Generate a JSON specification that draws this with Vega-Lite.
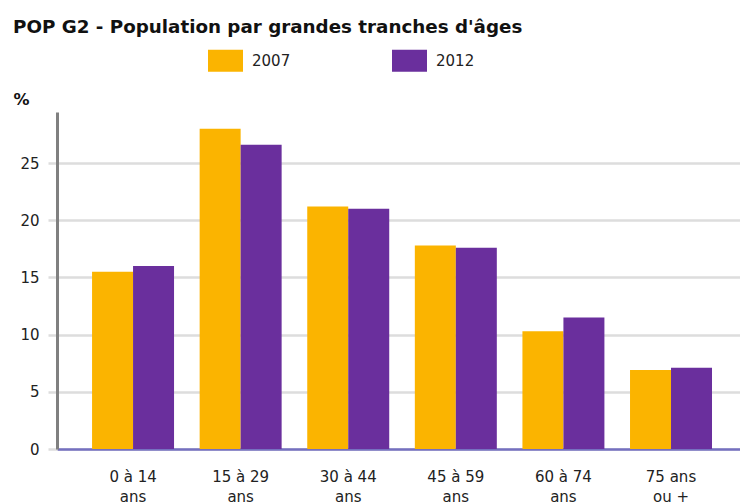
{
  "$schema": "https://vega.github.io/schema/vega-lite/v6.json",
  "width": 683,
  "height": 337,
  "autosize": {"type": "none"},
  "padding": {"left": 57, "top": 112, "right": 0, "bottom": 55},
  "background": "white",
  "title": {
    "text": "POP G2 - Population par grandes tranches d'âges",
    "anchor": "start",
    "frame": "group",
    "font": "DejaVu Sans",
    "fontSize": 18.3,
    "fontWeight": "bold",
    "color": "#111111",
    "baseline": "alphabetic",
    "dx": -44,
    "offset": -8
  },
  "data": {
    "values": [
      {"age": "0 à 14 ans", "year": "2007", "pct": 15.5},
      {"age": "0 à 14 ans", "year": "2012", "pct": 16.0},
      {"age": "15 à 29 ans", "year": "2007", "pct": 28.0},
      {"age": "15 à 29 ans", "year": "2012", "pct": 26.6},
      {"age": "30 à 44 ans", "year": "2007", "pct": 21.2},
      {"age": "30 à 44 ans", "year": "2012", "pct": 21.0},
      {"age": "45 à 59 ans", "year": "2007", "pct": 17.8},
      {"age": "45 à 59 ans", "year": "2012", "pct": 17.6},
      {"age": "60 à 74 ans", "year": "2007", "pct": 10.3},
      {"age": "60 à 74 ans", "year": "2012", "pct": 11.5},
      {"age": "75 ans ou +", "year": "2007", "pct": 6.9},
      {"age": "75 ans ou +", "year": "2012", "pct": 7.1}
    ]
  },
  "mark": {"type": "bar"},
  "encoding": {
    "x": {
      "field": "age",
      "type": "nominal",
      "sort": null,
      "scale": {"paddingInner": 0.238, "paddingOuter": 0.293, "align": 0.556},
      "axis": {
        "title": null,
        "domainColor": "#7570C0",
        "domainWidth": 2.5,
        "ticks": false,
        "labelAngle": 0,
        "labelFont": "DejaVu Sans",
        "labelFontSize": 15,
        "labelColor": "#222222",
        "labelPadding": 20,
        "labelBaseline": "top",
        "labelLineHeight": 20,
        "labelExpr": "datum.value == '75 ans ou +' ? ['75 ans', 'ou +'] : [replace(datum.value, ' ans', ''), 'ans']"
      }
    },
    "xOffset": {"field": "year", "type": "nominal"},
    "y": {
      "field": "pct",
      "type": "quantitative",
      "scale": {"domain": [0, 29.46], "nice": false},
      "axis": {
        "title": "%",
        "titleAngle": 0,
        "titleX": -44,
        "titleY": -8,
        "titleAlign": "left",
        "titleBaseline": "alphabetic",
        "titleFont": "DejaVu Sans",
        "titleFontSize": 16,
        "titleFontWeight": "bold",
        "titleColor": "#111111",
        "values": [0, 5, 10, 15, 20, 25],
        "tickSize": 9,
        "tickColor": "#dddddd",
        "tickWidth": 2.5,
        "gridColor": "#dddddd",
        "gridWidth": 2.5,
        "domainColor": "#808080",
        "domainWidth": 3,
        "labelFont": "DejaVu Sans",
        "labelFontSize": 15,
        "labelColor": "#222222",
        "labelPadding": 9
      }
    },
    "color": {
      "field": "year",
      "type": "nominal",
      "scale": {"range": ["#FBB400", "#6A2F9D"]},
      "legend": {
        "orient": "none",
        "legendX": 151,
        "legendY": -69,
        "direction": "horizontal",
        "title": null,
        "symbolType": "M-1,-0.629H1V0.629H-1Z",
        "symbolSize": 1225,
        "symbolStrokeWidth": 0,
        "symbolOpacity": 1,
        "labelFont": "DejaVu Sans",
        "labelFontSize": 15,
        "labelColor": "#222222",
        "labelOffset": 9,
        "columnPadding": 101,
        "padding": 0
      }
    }
  },
  "config": {"view": {"stroke": null}}
}
